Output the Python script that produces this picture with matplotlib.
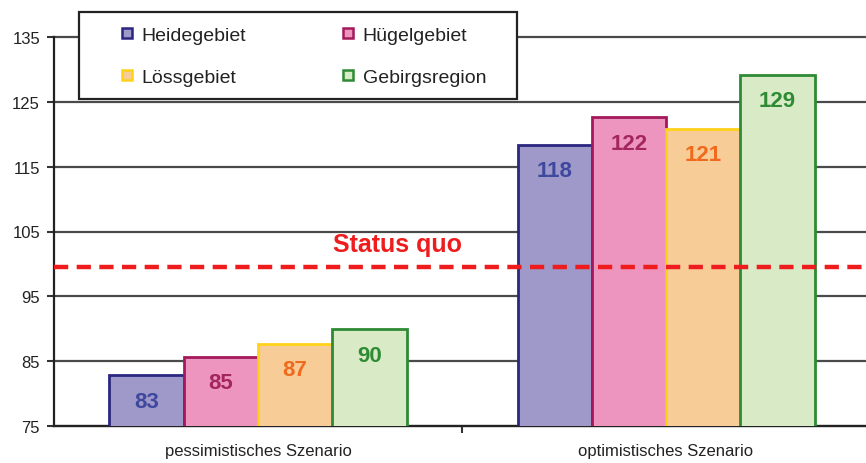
import matplotlib.pyplot as plt
from matplotlib.lines import Line2D
from matplotlib.patches import Rectangle

plt.rcParams['font.family'] = ['Liberation Sans', 'DejaVu Sans']

# data
scenarios = ['pessimistisches Szenario', 'optimistisches Szenario']
regions = ['Heidegebiet', 'Hügelgebiet', 'Lössgebiet', 'Gebirgsregion']
values = {
    'Heidegebiet': [82.8, 118.4],
    'Hügelgebiet': [85.7, 122.6],
    'Lössgebiet': [87.7, 120.8],
    'Gebirgsregion': [89.9, 129.1],
}
labels = {
    'Heidegebiet': ['83', '118'],
    'Hügelgebiet': ['85', '122'],
    'Lössgebiet': ['87', '121'],
    'Gebirgsregion': ['90', '129'],
}
status_quo = 99.6
yticks = [75, 85, 95, 105, 115, 125, 135]

fills = ['#9f99c9', '#ee95bf', '#f8cc97', '#d9eac7']
edges = ['#2b2780', '#a3195b', '#ffd21a', '#2e8b34']
text_cols = ['#3d489e', '#a3265f', '#ef6a1c', '#2e8b34']

W, H = 866, 464
fig = plt.figure(figsize=(W / 100, H / 100), dpi=100)
ax = fig.add_axes([54 / W, 1 - 427 / H, 1 - 54 / W, (427 - 38) / H])

width = 0.182
for i, r in enumerate(regions):
    xs = [k + (i - 1.5) * width for k in range(len(scenarios))]
    bars = ax.bar(xs, values[r], width=width, color=fills[i],
                  edgecolor=edges[i], linewidth=2, zorder=3)
    for b, lab in zip(bars, labels[r]):
        ax.annotate(lab, (b.get_x() + b.get_width() / 2, b.get_height()),
                    xytext=(0, -18.5), textcoords='offset points',
                    ha='center', va='center', fontsize=16, fontweight='bold',
                    color=text_cols[i], zorder=4)

ax.axhline(status_quo, color='#ee1c1c', lw=3.2, ls=(0, (3.2, 1.9)), zorder=5)
ax.text(0.342, status_quo + 3.4, 'Status quo', color='#ee1c1c', fontsize=18,
        fontweight='bold', ha='center', va='center', zorder=5)

ax.set_ylim(75, 135)
ax.set_xlim(-0.5, 1.49)
ax.set_yticks(yticks)
ax.yaxis.grid(True, color='#4a4a4a', lw=1.6, zorder=0)
for gl in ax.get_ygridlines():
    gl.set_clip_on(False)
ax.set_axisbelow(True)
ax.set_xticks([0, 1])
ax.set_xticklabels(scenarios, fontsize=12, color='#222222')
ax.tick_params(axis='x', length=0, pad=12)
ax.set_xticks([0.5], minor=True)
ax.tick_params(axis='x', which='minor', length=5, width=1.5, color='#333333')
ax.tick_params(axis='y', length=5, width=1.5, color='#333333',
               labelsize=12, labelcolor='#222222', pad=5)
for s in ['top', 'right']:
    ax.spines[s].set_visible(False)
for s in ['left', 'bottom']:
    ax.spines[s].set_linewidth(1.6)
    ax.spines[s].set_color('#222222')

# legend frame
fig.patches.append(Rectangle((79 / W, 1 - 100 / H), (517 - 79) / W, 87 / H,
                             transform=fig.transFigure, facecolor='white',
                             edgecolor='#222222', lw=1.6, zorder=9))

handles = [Line2D([], [], marker='s', ls='none', markersize=7,
                  markerfacecolor=fills[i], markeredgecolor=edges[i],
                  markeredgewidth=1.8) for i in range(len(regions))]
order = [0, 2, 1, 3]
leg = fig.legend([handles[i] for i in order], [regions[i] for i in order],
                 ncol=2, loc='upper left',
                 bbox_to_anchor=(117 / W, 1 - 27 / H), frameon=False,
                 fontsize=14, borderpad=0, borderaxespad=0,
                 labelspacing=1.27, columnspacing=4.75,
                 handletextpad=0.25, handlelength=1.0)
for t in leg.get_texts():
    t.set_color('#222222')
leg.set_zorder(10)

fig.savefig('out.png', dpi=100)
